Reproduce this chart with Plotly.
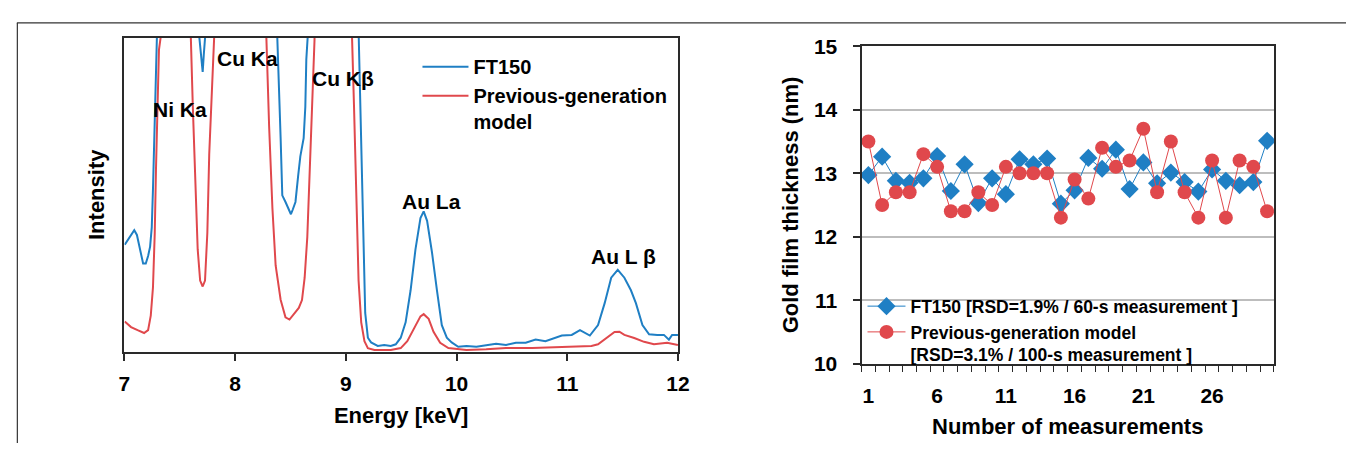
import plotly.graph_objects as go

# ---------------- Left panel: spectra (energy keV, intensity a.u.) ----------------
ft150_energy = [7.003, 7.071, 7.089, 7.113, 7.134, 7.152, 7.169, 7.193, 7.214, 7.232, 7.247, 7.258,
                7.267, 7.276, 7.285, 7.33, 7.48, 7.62, 7.677, 7.691, 7.707, 7.717, 7.728,
                7.85, 8.05, 8.25, 8.381, 8.411, 8.426, 8.455, 8.486, 8.504, 8.521, 8.545, 8.569,
                8.589, 8.619, 8.634, 8.643, 8.655, 8.75, 8.90, 9.05, 9.115, 9.133, 9.154, 9.175,
                9.199, 9.228, 9.288, 9.347, 9.406, 9.451, 9.496, 9.540, 9.585, 9.629, 9.674,
                9.703, 9.734, 9.778, 9.823, 9.867, 9.912, 9.956, 10.015, 10.090, 10.179, 10.268,
                10.357, 10.447, 10.536, 10.625, 10.714, 10.803, 10.892, 10.951, 11.040, 11.115,
                11.204, 11.278, 11.338, 11.397, 11.456, 11.516, 11.575, 11.620, 11.679, 11.739,
                11.813, 11.873, 11.918, 11.947, 12.0]
ft150_intensity = [34.1, 37.8, 38.7, 37.2, 33.5, 30.5, 28.1, 28.1, 30.5, 33.5, 39.6, 51.7,
                   68.0, 87.9, 100, 150, 220, 150, 100, 94.6, 89.1, 94.6, 100,
                   180, 250, 180, 100, 68.0, 49.8, 47.7, 45.3, 43.8, 45.3, 47.7, 55.9,
                   62.2, 68.0, 77.9, 93.0, 100, 200, 260, 200, 100, 77.9, 37.8, 12.4,
                   4.5, 3.0, 1.9, 2.2, 1.9, 2.4, 4.5, 9.4, 19.6, 32.6, 42.6,
                   44.7, 41.7, 31.7, 19.6, 8.5, 4.5, 3.0, 1.6, 1.9, 1.6, 2.2,
                   2.6, 2.2, 2.9, 2.9, 3.9, 3.4, 4.4, 5.2, 5.4, 6.9,
                   5.2, 8.5, 15.5, 23.6, 26.1, 23.6, 19.6, 15.5, 8.5, 5.6,
                   5.4, 5.4, 3.9, 5.4, 5.4]

prev_energy = [7.003, 7.060, 7.119, 7.178, 7.214, 7.238, 7.258, 7.274, 7.285, 7.297, 7.312, 7.327,
               7.42, 7.50, 7.58, 7.600, 7.618, 7.639, 7.662, 7.684, 7.707, 7.728, 7.749, 7.766,
               7.784, 7.802, 7.95, 8.05, 8.15, 8.277, 8.307, 8.337, 8.366, 8.411, 8.455, 8.491,
               8.530, 8.575, 8.604, 8.628, 8.652, 8.673, 8.693, 8.717, 8.8, 8.9, 9.0, 9.056,
               9.074, 9.094, 9.115, 9.139, 9.168, 9.199, 9.258, 9.406, 9.496, 9.555, 9.614,
               9.674, 9.703, 9.748, 9.792, 9.852, 9.926, 10.030, 10.090, 10.268, 10.447, 10.684,
               10.862, 11.040, 11.218, 11.278, 11.352, 11.427, 11.471, 11.516, 11.605, 11.694,
               11.783, 11.842, 11.902, 12.0]
prev_intensity = [9.7, 7.9, 6.9, 6.0, 6.9, 11.5, 20.5, 37.8, 57.7, 77.9, 96.1, 100,
                  180, 230, 180, 100, 77.9, 52.9, 32.6, 22.7, 20.8, 22.7, 37.8, 62.8,
                  83.1, 100, 250, 300, 250, 100, 71.9, 45.6, 27.5, 16.6, 11.0, 10.3,
                  12.0, 14.0, 16.5, 23.6, 36.6, 56.8, 77.0, 99.1, 250, 300, 250, 100,
                  77.9, 47.7, 22.7, 9.4, 3.4, 1.2, 0.6, 0.6, 1.2, 3.4, 7.5,
                  11.3, 12.0, 10.5, 6.4, 2.9, 1.2, 0.7, 0.6, 0.8, 1.2, 1.2,
                  1.4, 1.6, 1.9, 2.4, 4.4, 6.3, 6.4, 5.4, 4.4, 3.2,
                  2.4, 2.6, 2.9, 2.2]

peak_labels = ["Ni Ka", "Cu Ka", "Cu Kβ", "Au La", "Au L β"]
peak_label_energy = [7.50, 8.11, 8.97, 9.77, 11.51]
peak_label_intensity = [77, 93.5, 87, 48, 30.5]

# ---------------- Right panel: repeatability ----------------
measurement_no = list(range(1, 31))
ft150_thickness = [12.97, 13.26, 12.88, 12.85, 12.92, 13.27, 12.72, 13.14, 12.53, 12.92,
                   12.67, 13.22, 13.14, 13.23, 12.52, 12.73, 13.24, 13.07, 13.37, 12.75,
                   13.17, 12.84, 13.01, 12.86, 12.71, 13.06, 12.88, 12.81, 12.86, 13.51]
prev_thickness = [13.5, 12.5, 12.7, 12.7, 13.3, 13.1, 12.4, 12.4, 12.7, 12.5,
                  13.1, 13.0, 13.0, 13.0, 12.3, 12.9, 12.6, 13.4, 13.1, 13.2,
                  13.7, 12.7, 13.5, 12.7, 12.3, 13.2, 12.3, 13.2, 13.1, 12.4]
x_tick_labels = [1, 6, 11, 16, 21, 26]
y_tick_values = [10, 11, 12, 13, 14, 15]

BLUE = "#1f7fc4"
RED = "#e0484c"
AX = "#2a2a2a"
FONT = "Liberation Sans, Arial, Helvetica, sans-serif"
W, H = 1358, 454

fig = go.Figure()

fig.add_trace(go.Scatter(x=ft150_energy, y=ft150_intensity, mode="lines", name="FT150",
                         line=dict(color=BLUE, width=2), xaxis="x", yaxis="y", legend="legend"))
fig.add_trace(go.Scatter(x=prev_energy, y=prev_intensity, mode="lines",
                         name="Previous-generation<br>model",
                         line=dict(color=RED, width=2), xaxis="x", yaxis="y", legend="legend"))

fig.add_trace(go.Scatter(x=measurement_no, y=ft150_thickness, mode="lines+markers",
                         name="FT150 [RSD=1.9% / 60-s measurement ]",
                         line=dict(color=BLUE, width=1),
                         marker=dict(symbol="diamond", size=14, color=BLUE),
                         xaxis="x2", yaxis="y2", legend="legend2"))
fig.add_trace(go.Scatter(x=measurement_no, y=prev_thickness, mode="lines+markers",
                         name="Previous-generation model<br>[RSD=3.1% / 100-s measurement ]",
                         line=dict(color=RED, width=1),
                         marker=dict(symbol="circle", size=14, color=RED),
                         xaxis="x2", yaxis="y2", legend="legend2"))

for txt, ex, iy in zip(peak_labels, peak_label_energy, peak_label_intensity):
    fig.add_annotation(x=ex, y=iy, xref="x", yref="y", text=txt, showarrow=False,
                       font=dict(size=21, color="black", family=FONT, weight="bold"))

# outer frame
fig.add_shape(type="line", xref="paper", yref="paper", x0=11 / W, x1=1.0,
              y0=1 - 11.5 / H, y1=1 - 11.5 / H, line=dict(color="#333", width=1.2))
fig.add_shape(type="line", xref="paper", yref="paper", x0=11.5 / W, x1=11.5 / W,
              y0=0, y1=1 - 11.5 / H, line=dict(color="#333", width=1.2))

tickfont = dict(size=21, color="black", family=FONT, weight="bold")
titlefont = dict(size=22, color="black", family=FONT, weight="bold")

fig.update_layout(
    width=W, height=H,
    margin=dict(l=0, r=0, t=0, b=0),
    paper_bgcolor="white", plot_bgcolor="white",
    font=dict(family=FONT, color="black"),
    xaxis=dict(domain=[120 / W, 681 / W], range=[7, 12], tickvals=[7, 8, 9, 10, 11, 12],
               ticks="outside", ticklen=7, tickwidth=1.5, tickcolor=AX,
               showline=True, linecolor=AX, linewidth=2, mirror=True, showgrid=False,
               zeroline=False, tickfont=tickfont, ticklabelstandoff=5,
               title=dict(text="Energy [keV]", font=titlefont, standoff=14),
               anchor="y"),
    yaxis=dict(domain=[(H - 358) / H, (H - 27) / H], range=[0, 100], showticklabels=False,
               ticks="", showline=True, linecolor=AX, linewidth=2, mirror=True,
               showgrid=False, zeroline=False,
               title=dict(text="Intensity", font=titlefont, standoff=12), anchor="x"),
    xaxis2=dict(domain=[867 / W, 1285 / W], range=[0.5, 30.5], tickvals=x_tick_labels,
                ticks="outside", ticklen=0, tickwidth=0, showline=True, linecolor=AX,
                linewidth=2, mirror=True,
                showgrid=False, zeroline=False, tickfont=tickfont, ticklabelstandoff=12,
                minor=dict(tick0=0.5, dtick=1, ticks="outside", ticklen=6, tickwidth=1.2,
                           tickcolor=AX, showgrid=False),
                title=dict(text="Number of measurements", font=titlefont, standoff=13),
                anchor="y2"),
    yaxis2=dict(domain=[(H - 370.5) / H, (H - 36) / H], range=[10, 15], tickvals=y_tick_values,
                ticks="outside", ticklen=7, tickwidth=1.5, tickcolor=AX,
                showline=True, linecolor=AX, linewidth=2, mirror=True,
                showgrid=True, gridcolor="#bdbdbd", gridwidth=2, zeroline=False,
                tickfont=tickfont, ticklabelstandoff=11,
                title=dict(text="Gold film thickness (nm)", font=titlefont, standoff=9),
                anchor="x2"),
    legend=dict(x=417 / W, y=1 - 37 / H, xanchor="left", yanchor="top",
                bgcolor="rgba(0,0,0,0)", font=dict(size=20, family=FONT, weight="bold"),
                itemwidth=46, valign="top", tracegroupgap=0),
    legend2=dict(x=868 / W, y=1 - 291 / H, xanchor="left", yanchor="top",
                 bgcolor="rgba(0,0,0,0)", font=dict(size=17.5, family=FONT, weight="bold"),
                 itemwidth=38, valign="top"),
    showlegend=True,
)

fig.write_html("out.html", config={"displayModeBar": False},
               post_script="document.body.style.margin='0';document.body.style.overflow='hidden';")
